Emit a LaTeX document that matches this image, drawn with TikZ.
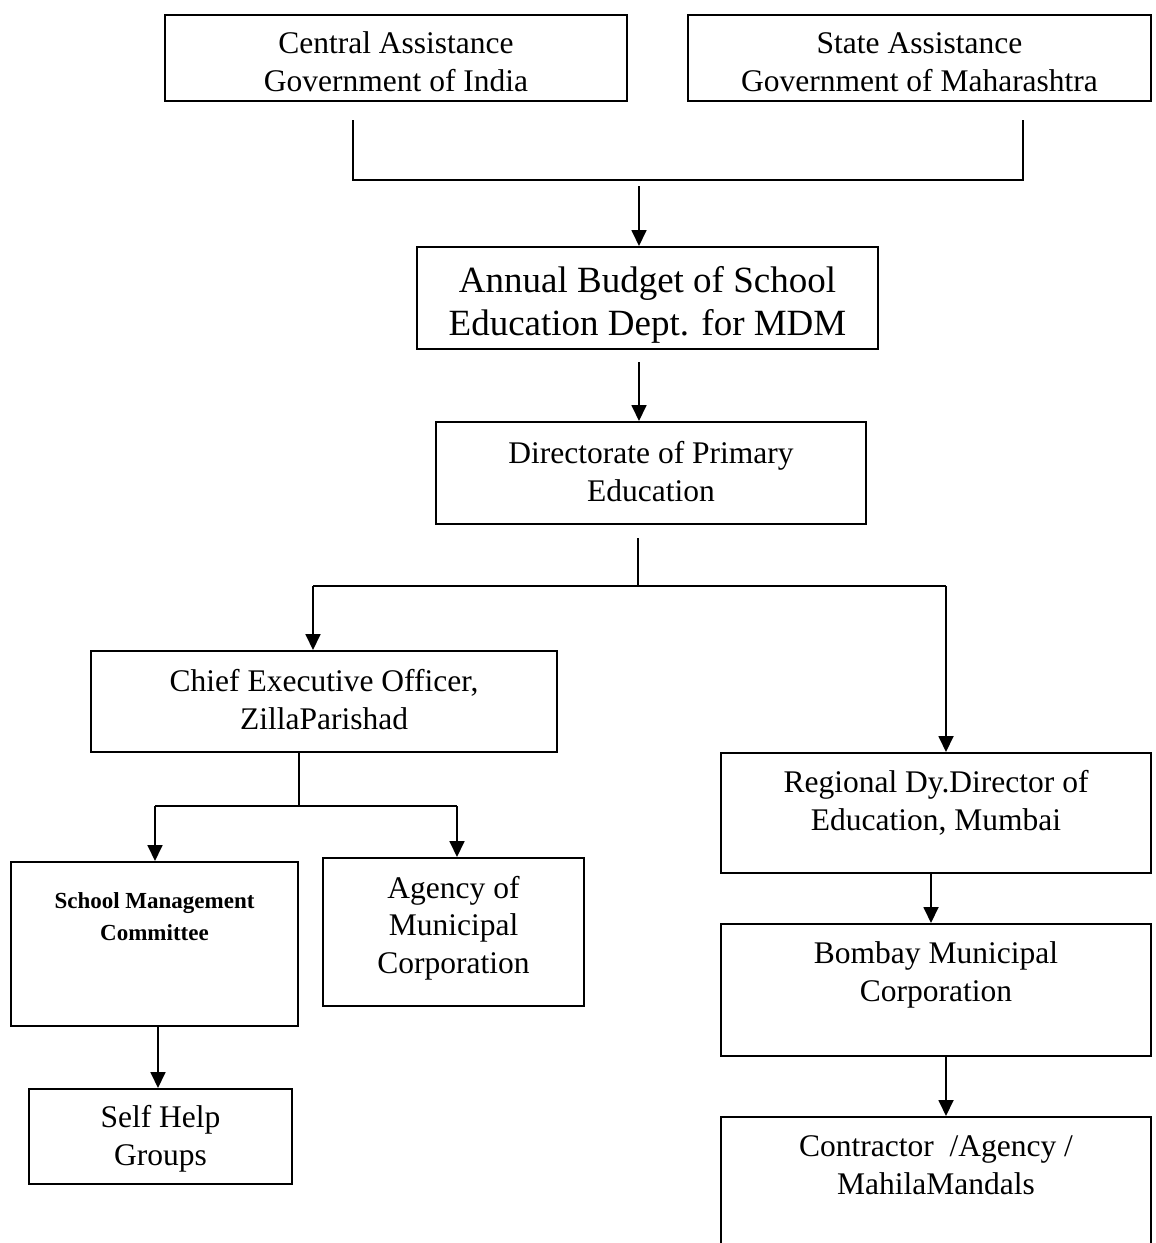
\documentclass[tikz,border=0pt]{standalone}
\usepackage{fontspec}
\setmainfont{Liberation Serif}
\usetikzlibrary{arrows.meta,fit}
\begin{document}
\begin{tikzpicture}[x=0.5pt,y=-0.5pt,
  box/.style={draw, line width=1pt, inner sep=0pt},
  txt/.style={align=center, anchor=base, inner sep=0pt, font=\fontsize{15.75}{18.75}\selectfont},
  bigtxt/.style={txt, font=\fontsize{18.5}{21.5}\selectfont},
  smalltxt/.style={txt, font=\fontsize{11.5}{16}\selectfont\bfseries},
  conn/.style={line width=0.9pt},
  arr/.style={conn, -{Triangle[width=7.5pt,length=8pt]}}]
\clip (0,0) rectangle (1156,1243);
\fill[white] (0,0) rectangle (1156,1243);

% boxes (text nodes are anchored at the baseline of their last line)
\node[box, fit={(165,15)(627,101)}] (central) {};
\node[txt] (centralT) at (396,91) {Central Assistance\\Government of India};
\node[box, fit={(688,15)(1151,101)}] (state) {};
\node[txt] (stateT) at (919.5,91) {State Assistance\\Government of Maharashtra};

\node[box, fit={(417,247)(878,349)}] (annual) {};
\node[bigtxt] (annualT) at (647.5,335) {Annual Budget of School\\Education Dept. for MDM};

\node[box, fit={(436,422)(866,524)}] (direct) {};
\node[txt] (directT) at (651,501) {Directorate of Primary\\Education};

\node[box, fit={(91,651)(557,752)}] (chief) {};
\node[txt] (chiefT) at (324,729) {Chief Executive Officer,\\ZillaParishad};

\node[box, fit={(11,862)(298,1026)}] (school) {};
\node[smalltxt] (schoolT) at (154.5,940) {School Management\\Committee};

\node[box, fit={(323,858)(584,1006)}] (agency) {};
\node[txt] (agencyT) at (453.5,973) {Agency of\\Municipal\\Corporation};

\node[box, fit={(29,1089)(292,1184)}] (self) {};
\node[txt] (selfT) at (160.5,1165) {Self Help\\Groups};

\node[box, fit={(721,753)(1151,873)}] (regional) {};
\node[txt] (regionalT) at (936,830) {Regional Dy.Director of\\Education, Mumbai};

\node[box, fit={(721,924)(1151,1056)}] (bombay) {};
\node[txt] (bombayT) at (936,1001) {Bombay Municipal\\Corporation};

\node[box, fit={(721,1117)(1151,1262)}] (contr) {};
\node[txt] (contrT) at (936,1194) {Contractor~ /Agency /\\MahilaMandals};

% top junction
\coordinate (t1) at (353,120);
\coordinate (t2) at (1023,120);
\coordinate (tj) at (639,180);
\draw[conn] (t1) |- (tj) -| (t2);
\coordinate (a1) at (639,186);
\draw[arr] (a1) -- (a1 |- annual.north);
\coordinate (a2) at (639,362);
\draw[arr] (a2) -- (a2 |- direct.north);

% directorate branching
\coordinate (d1) at (638,538);
\coordinate (dj) at (638,586);
\coordinate (dl) at (313,586);
\coordinate (dr) at (946,586);
\draw[conn] (d1) -- (dj);
\draw[conn] (dl) -- (dr);
\draw[arr] (dl) -- (dl |- chief.north);
\draw[arr] (dr) -- (dr |- regional.north);

% chief branching
\coordinate (cj) at (299,806);
\coordinate (cl) at (155,806);
\coordinate (cr) at (457,806);
\draw[conn] (chief.south -| cj) -- (cj);
\draw[conn] (cl) -- (cr);
\draw[arr] (cl) -- (cl |- school.north);
\draw[arr] (cr) -- (cr |- agency.north);

\coordinate (sx) at (158,1030);
\draw[arr] (school.south -| sx) -- (sx |- self.north);

% right column
\coordinate (rx) at (931,880);
\draw[arr] (regional.south -| rx) -- (rx |- bombay.north);
\coordinate (bx) at (946,1060);
\draw[arr] (bombay.south -| bx) -- (bx |- contr.north);
\end{tikzpicture}
\end{document}
